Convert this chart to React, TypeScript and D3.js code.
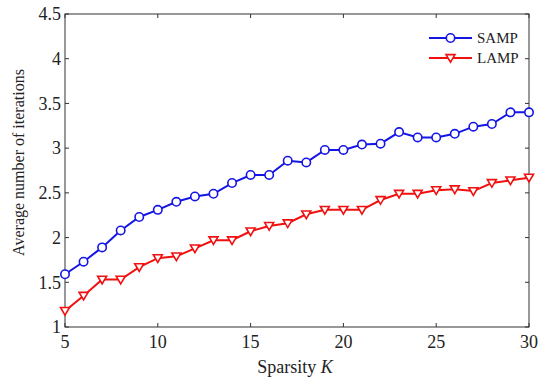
import React, { useRef, useEffect } from 'react'
import * as d3 from 'd3'

const sparsityK = [5, 6, 7, 8, 9, 10, 11, 12, 13, 14, 15, 16, 17, 18, 19, 20, 21, 22, 23, 24, 25, 26, 27, 28, 29, 30]
const sampIter = [1.59, 1.73, 1.89, 2.08, 2.23, 2.31, 2.40, 2.46, 2.49, 2.61, 2.70, 2.70, 2.86, 2.84, 2.98, 2.98, 3.04, 3.05, 3.18, 3.12, 3.12, 3.16, 3.24, 3.27, 3.40, 3.40]
const lampIter = [1.18, 1.35, 1.53, 1.53, 1.67, 1.77, 1.79, 1.88, 1.97, 1.97, 2.07, 2.13, 2.16, 2.26, 2.31, 2.31, 2.31, 2.42, 2.49, 2.49, 2.53, 2.54, 2.52, 2.61, 2.64, 2.67]
const xTicks = [5, 10, 15, 20, 25, 30]
const yTicks = [1, 1.5, 2, 2.5, 3, 3.5, 4, 4.5]

const W = 541
const H = 381
const margin = { top: 14, right: 12, bottom: 54, left: 65 }
const FONT = '"Liberation Serif", "Times New Roman", serif'

export default function App() {
  const svgRef = useRef<SVGSVGElement>(null)

  useEffect(() => {
    if (!svgRef.current) return
    const svg = d3.select(svgRef.current)
    svg.selectAll('*').remove()

    const innerW = W - margin.left - margin.right
    const innerH = H - margin.top - margin.bottom

    const x = d3.scaleLinear().domain([5, 30]).range([0, innerW])
    const y = d3.scaleLinear().domain([1, 4.5]).range([innerH, 0])

    const g = svg.append('g').attr('transform', `translate(${margin.left},${margin.top})`)

    // frame
    g.append('rect')
      .attr('width', innerW)
      .attr('height', innerH)
      .attr('fill', 'none')
      .attr('stroke', '#333')
      .attr('stroke-width', 1)

    const tickLen = 4
    // x ticks bottom + top
    xTicks.forEach(t => {
      g.append('line').attr('x1', x(t)).attr('x2', x(t)).attr('y1', innerH).attr('y2', innerH - tickLen).attr('stroke', '#333')
      g.append('line').attr('x1', x(t)).attr('x2', x(t)).attr('y1', 0).attr('y2', tickLen).attr('stroke', '#333')
      g.append('text')
        .attr('x', x(t))
        .attr('y', innerH + 21)
        .attr('text-anchor', 'middle')
        .style('font-family', FONT)
        .style('font-size', '18px')
        .style('fill', '#222')
        .text(t)
    })
    // y ticks left + right
    yTicks.forEach(t => {
      g.append('line').attr('x1', 0).attr('x2', tickLen).attr('y1', y(t)).attr('y2', y(t)).attr('stroke', '#333')
      g.append('line').attr('x1', innerW).attr('x2', innerW - tickLen).attr('y1', y(t)).attr('y2', y(t)).attr('stroke', '#333')
      g.append('text')
        .attr('x', -4)
        .attr('y', y(t))
        .attr('dy', '0.35em')
        .attr('text-anchor', 'end')
        .style('font-family', FONT)
        .style('font-size', '18px')
        .style('fill', '#222')
        .text(t)
    })

    // axis labels
    const xl = g.append('text')
      .attr('x', innerW / 2 - 2)
      .attr('y', innerH + 46)
      .attr('text-anchor', 'middle')
      .style('font-family', FONT)
      .style('font-size', '18px')
      .style('fill', '#222')
    xl.append('tspan').text('Sparsity ')
    xl.append('tspan').style('font-style', 'italic').text('K')

    g.append('text')
      .attr('transform', 'rotate(-90)')
      .attr('x', -innerH / 2 + 8)
      .attr('y', -41)
      .attr('text-anchor', 'middle')
      .style('font-family', FONT)
      .style('font-size', '16px')
      .style('fill', '#222')
      .text('Average number of iterations')

    const line = d3.line<number>().x((_d, i) => x(sparsityK[i])).y(d => y(d))

    const blue = '#1515e6'
    const red = '#f01010'
    const tri = (cx: number, cy: number, s: number) =>
      `M${cx - s},${cy - s * 0.75}L${cx + s},${cy - s * 0.75}L${cx},${cy + s * 0.95}Z`

    // SAMP
    g.append('path').datum(sampIter).attr('d', line).attr('fill', 'none').attr('stroke', blue).attr('stroke-width', 2)
    g.selectAll('.samp')
      .data(sampIter)
      .enter()
      .append('circle')
      .attr('class', 'samp')
      .attr('cx', (_d, i) => x(sparsityK[i]))
      .attr('cy', d => y(d))
      .attr('r', 4.2)
      .attr('fill', 'white')
      .attr('stroke', blue)
      .attr('stroke-width', 1.6)

    // LAMP
    g.append('path').datum(lampIter).attr('d', line).attr('fill', 'none').attr('stroke', red).attr('stroke-width', 2)
    g.selectAll('.lamp')
      .data(lampIter)
      .enter()
      .append('path')
      .attr('class', 'lamp')
      .attr('d', (d, i) => tri(x(sparsityK[i]), y(d), 4.5))
      .attr('fill', 'white')
      .attr('stroke', red)
      .attr('stroke-width', 1.6)

    // legend
    const legend = g.append('g').attr('transform', `translate(${364}, 0)`)
    const items = [
      { key: 'SAMP', color: blue, marker: 'circle' },
      { key: 'LAMP', color: red, marker: 'tri' },
    ]
    items.forEach((it, i) => {
      const ly = 24 + i * 20
      legend.append('line').attr('x1', 0).attr('x2', 43).attr('y1', ly).attr('y2', ly).attr('stroke', it.color).attr('stroke-width', 2)
      if (it.marker === 'circle') {
        legend.append('circle').attr('cx', 21.5).attr('cy', ly).attr('r', 4.2).attr('fill', 'white').attr('stroke', it.color).attr('stroke-width', 1.6)
      } else {
        legend.append('path').attr('d', tri(21.5, ly, 4.5)).attr('fill', 'white').attr('stroke', it.color).attr('stroke-width', 1.6)
      }
      legend.append('text')
        .attr('x', 48)
        .attr('y', ly)
        .attr('dy', '0.35em')
        .style('font-family', FONT)
        .style('font-size', '15px')
        .style('fill', '#222')
        .text(it.key)
    })
  }, [])

  return (
    <div style={{ position: 'absolute', left: 0, top: 0, background: 'white' }}>
      <svg ref={svgRef} width={W} height={H} style={{ display: 'block' }} />
    </div>
  )
}
